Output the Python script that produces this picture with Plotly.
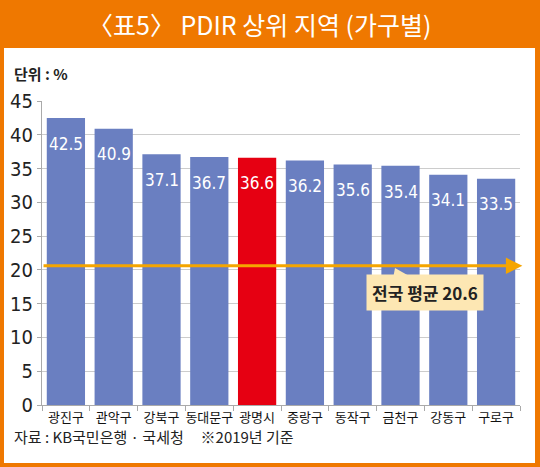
import plotly.graph_objects as go

regions = ["광진구", "관악구", "강북구", "동대문구", "광명시", "중랑구", "동작구", "금천구", "강동구", "구로구"]
pdir = [42.5, 40.9, 37.1, 36.7, 36.6, 36.2, 35.6, 35.4, 34.1, 33.5]
highlight = "광명시"
national_avg = 20.6
y_ticks = [0, 5, 10, 15, 20, 25, 30, 35, 40, 45]

BLUE = "#6a7fc1"
RED = "#e60012"
ORANGE = "#ef7800"
LINE_ORANGE = "#f5a500"
NARROW = "DejaVu Sans Condensed"
KR = "Noto Sans CJK KR, sans-serif"

colors = [RED if r == highlight else BLUE for r in regions]

fig = go.Figure()
fig.add_trace(go.Bar(
    x=regions, y=pdir, marker=dict(color=colors, line=dict(width=0)),
    hoverinfo="skip",
))

annotations = []
for r, v in zip(regions, pdir):
    annotations.append(dict(
        x=r, y=v - 3.8, xref="x", yref="y", text=f"{v}", showarrow=False,
        font=dict(family=NARROW, size=17, color="white"),
    ))

# average arrow line
annotations.append(dict(
    x=9.55, y=national_avg, ax=-0.5, ay=national_avg, xref="x", yref="y",
    axref="x", ayref="y", text="", showarrow=True, arrowhead=2, arrowsize=1.1,
    arrowwidth=3, arrowcolor=LINE_ORANGE, standoff=0,
))
# callout
annotations.append(dict(
    x=7.51, y=16.6, xref="x", yref="y", text=f"<b>전국 평균 {national_avg}</b>",
    showarrow=False, bgcolor="#fde7b3", borderpad=5,
    font=dict(family=KR, size=17, color="#222"),
))
# unit label
annotations.append(dict(
    x=-0.063, y=1.09, xref="paper", yref="paper", xanchor="left", yanchor="middle",
    text="<b>단위 : %</b>", showarrow=False, font=dict(family=KR, size=15, color="#222"),
))
# source
annotations.append(dict(
    x=-0.063, y=-0.105, xref="paper", yref="paper", xanchor="left", yanchor="middle",
    text="자료 : KB국민은행 · 국세청\u00a0\u00a0\u00a0\u00a0\u00a0※2019년 기준", showarrow=False,
    font=dict(family=KR, size=15, color="#222"),
))
# title
annotations.append(dict(
    x=0.456, y=1.253, xref="paper", yref="paper", xanchor="center", yanchor="middle",
    text="〈표5〉 PDIR 상위 지역 (가구별)", showarrow=False,
    font=dict(family=KR, size=25, color="white"),
))

shapes = [
    dict(type="rect", xref="paper", yref="paper", x0=-0.0795, x1=1.0314,
         y0=-0.1908, y1=1.1743, fillcolor="white", line=dict(width=0), layer="below"),
    dict(type="path", xref="paper", yref="paper",
         path="M 0.7385 0.4507 L 0.733 0.405 L 0.79 0.405 Z",
         fillcolor="#fde7b3", line=dict(width=0), layer="above"),
]

fig.update_layout(
    width=540, height=467,
    margin=dict(l=42, r=20, t=101, b=62),
    paper_bgcolor=ORANGE, plot_bgcolor="rgba(0,0,0,0)",
    showlegend=False, bargap=0.2,
    annotations=annotations, shapes=shapes,
    xaxis=dict(
        type="category", tickson="boundaries", ticks="outside", ticklen=5,
        tickcolor="#aaaaaa", showline=True, linecolor="#aaaaaa", linewidth=1,
        showgrid=False, tickfont=dict(family=KR, size=13, color="#111"),
        range=[-0.5, 9.5], tickangle=0, automargin=False,
    ),
    yaxis=dict(
        range=[0, 45], tickvals=y_ticks, ticks="outside", ticklen=4,
        tickcolor="#aaaaaa", showline=True, linecolor="#aaaaaa", linewidth=1,
        gridcolor="#cccccc", gridwidth=1, zeroline=False, automargin=False,
        tickfont=dict(family=NARROW, size=20, color="#222"),
    ),
)

fig.write_html("out.html", config={"displayModeBar": False},
               post_script="document.body.style.margin='0';")
